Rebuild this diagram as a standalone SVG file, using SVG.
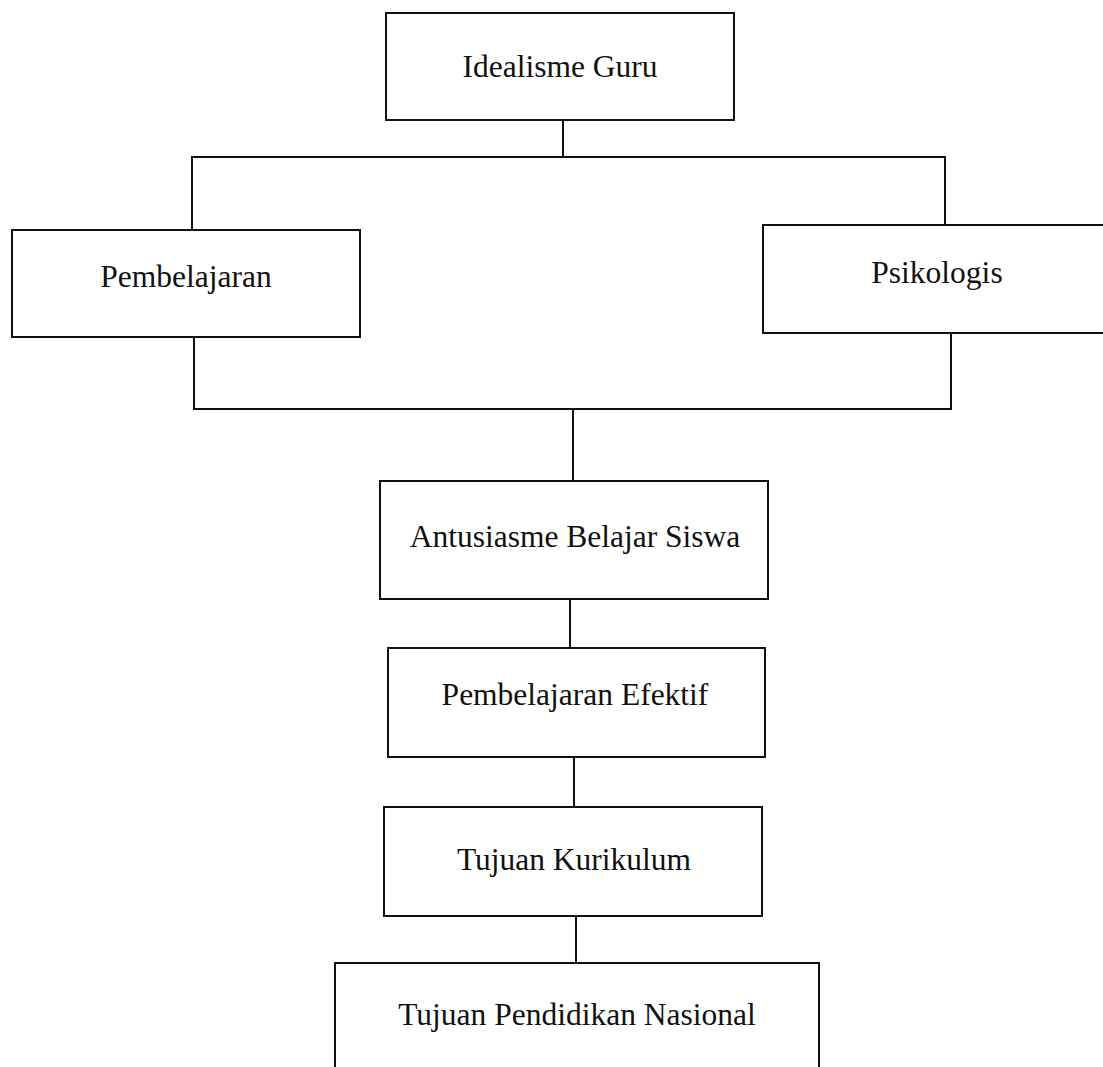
<svg xmlns="http://www.w3.org/2000/svg" width="1103" height="1067" viewBox="0 0 1103 1067">
<style>
.box{fill:#fff;stroke:#111;stroke-width:2}
.lbl{font-family:"Liberation Serif","Times New Roman",serif;font-size:31.5px;fill:#111;text-anchor:middle}
.conn{fill:none;stroke:#111;stroke-width:2}
</style>
<rect width="1103" height="1067" fill="#fff"/>
<g id="connectors" class="conn">
<path d="M563 120 V156"/>
<path d="M192 230 V157 H945 V225"/>
<path d="M194 337 V409 H951 V333"/>
<path d="M573 409 V481"/>
<path d="M570 599 V648"/>
<path d="M574 757 V807"/>
<path d="M576 916 V963"/>
</g>
<g id="idealisme-guru"><rect class="box" x="386" y="13" width="348" height="107"/><text class="lbl" x="560" y="77">Idealisme Guru</text></g>
<g id="pembelajaran"><rect class="box" x="12" y="230" width="348" height="107"/><text class="lbl" x="186" y="287">Pembelajaran</text></g>
<g id="psikologis"><rect class="box" x="763" y="225" width="360" height="108"/><text class="lbl" x="937" y="283">Psikologis</text></g>
<g id="antusiasme"><rect class="box" x="380" y="481" width="388" height="118"/><text class="lbl" x="575" y="547">Antusiasme Belajar Siswa</text></g>
<g id="pembelajaran-efektif"><rect class="box" x="388" y="648" width="377" height="109"/><text class="lbl" x="575" y="705">Pembelajaran Efektif</text></g>
<g id="tujuan-kurikulum"><rect class="box" x="384" y="807" width="378" height="109"/><text class="lbl" x="574" y="870">Tujuan Kurikulum</text></g>
<g id="tujuan-pendidikan"><rect class="box" x="335" y="963" width="484" height="130"/><text class="lbl" x="577" y="1025">Tujuan Pendidikan Nasional</text></g>
</svg>
